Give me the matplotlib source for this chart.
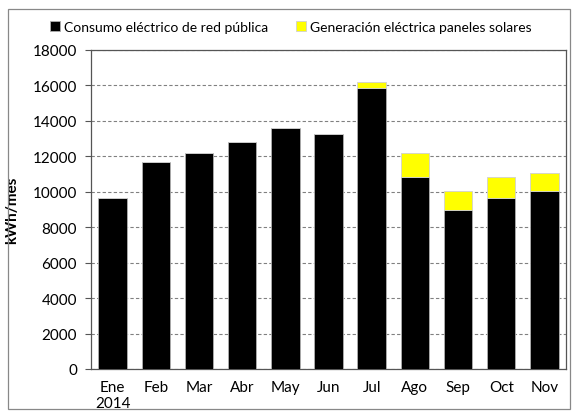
import matplotlib.pyplot as plt
from matplotlib.patches import Rectangle
import numpy as np

# Monthly values (kWh/mes).
months = ['Ene\n2014', 'Feb', 'Mar', 'Abr', 'May', 'Jun',
          'Jul', 'Ago', 'Sep', 'Oct', 'Nov']
red_publica = [9640, 11680, 12190, 12810, 13600, 13240,
               15870, 10850, 8980, 9640, 10040]
paneles = [0, 0, 0, 0, 0, 0, 300, 1320, 1040, 1210, 1040]

plt.rcParams['font.family'] = ['Lato', 'DejaVu Sans']

fig = plt.figure(figsize=(5.72, 4.14), dpi=100)
ax = fig.add_axes([91 / 572, 1 - 370 / 414, 475 / 572, 319 / 414])

x = np.arange(len(months))
ax.bar(x, red_publica, width=0.66, color='black', edgecolor='#b0b0b0',
       linewidth=0.6, label='Consumo eléctrico de red pública', zorder=3)
ax.bar(x, paneles, width=0.66, bottom=red_publica, color='#ffff00',
       edgecolor='#d0d0d0', linewidth=0.6,
       label='Generación eléctrica paneles solares', zorder=3)

ax.set_ylim(0, 18000)
ax.set_xlim(-0.5, len(months) - 0.5)
ax.set_yticks(np.arange(0, 18001, 2000))
ax.set_xticks(x)
ax.set_xticklabels(months, fontsize=11)
ax.tick_params(axis='y', labelsize=11, length=4, color='#555555', pad=6)
ax.tick_params(axis='x', length=0, pad=8)
ax.yaxis.grid(True, linestyle=(0, (3, 2)), color='#808080', linewidth=0.8,
              zorder=0)
ax.set_ylabel('kWh/mes', fontsize=11, fontweight='bold', labelpad=10)
for s in ax.spines.values():
    s.set_color('#555555')
    s.set_linewidth(0.9)

fig.legend(loc='upper center', bbox_to_anchor=(291 / 572, 1 - 9 / 414),
           ncol=2, frameon=False, fontsize=10, handlelength=0.7,
           handleheight=0.7, handletextpad=0.3, columnspacing=2.0)

# Outer chart border.
fig.patches.append(Rectangle((8 / 572, 4 / 414), 562 / 572, 400 / 414,
                             transform=fig.transFigure, fill=False,
                             edgecolor='#888888', linewidth=0.9))

fig.savefig('out.png', dpi=100)
